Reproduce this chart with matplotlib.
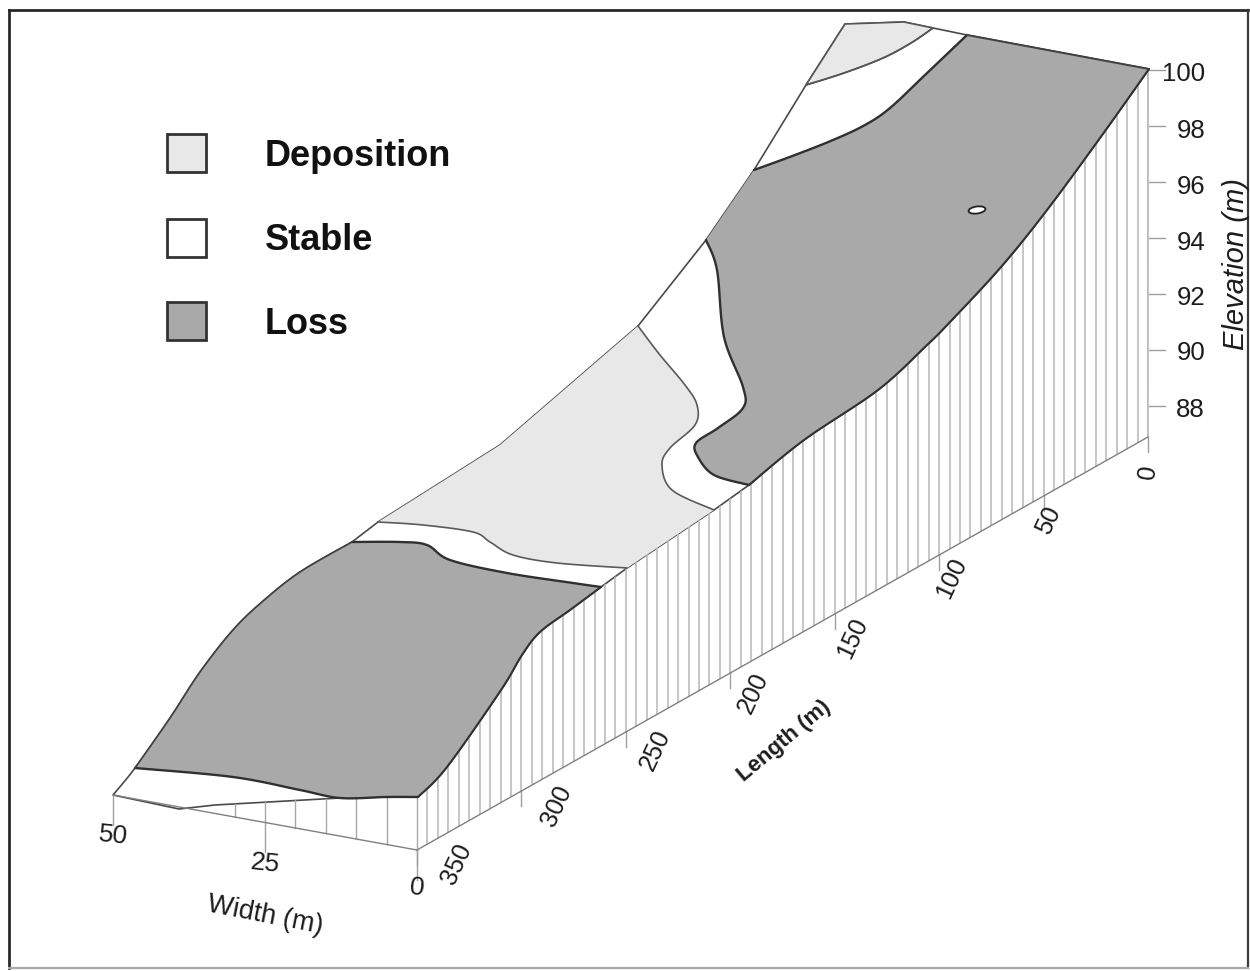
"""Erosion and deposition zones drawn on a 3-D surface of a hillslope plot."""

import matplotlib

matplotlib.use("Agg")
import matplotlib.pyplot as plt
import numpy as np
from matplotlib.patches import Ellipse, Polygon, Rectangle

plt.rcParams["font.family"] = ["Liberation Sans", "DejaVu Sans"]

W, H = 1250, 971

length_ticks = [0, 50, 100, 150, 200, 250, 300, 350]
width_ticks = [0, 25, 50]
elev_ticks = [100, 98, 96, 94, 92, 90, 88]
length_lines = list(range(0, 355, 5))
width_lines = [0, 5, 10, 15, 20, 25, 30]

legend_names = ["Deposition", "Stable", "Loss"]
legend_colors = ["#e8e8e8", "#ffffff", "#a9a9a9"]

# outlines, in picture coordinates
left_low = [(113, 795), (135, 768), (170, 718), (200, 672), (233, 630), (262, 602), (300, 572), (352, 542)]
left_up = [(352, 542), (378, 522), (500, 445), (638, 326), (706, 240), (754, 170), (806, 85), (845, 24)]
back_edge = [(845, 24), (904, 22), (933, 28), (967, 35), (1149, 69)]
right_up = [(1149, 69), (1100, 138), (1047, 210), (1001, 267), (950, 322), (926, 346), (878, 390),
            (804, 440), (749, 485)]
right_mid = [(749, 485), (714, 510), (627, 568), (601, 587)]
right_low = [(601, 587), (570, 610), (540, 632), (522, 655), (501, 690), (447, 767), (418, 797)]
front_edge = [(418, 797), (386, 797), (340, 798), (215, 805), (179, 809), (113, 795)]

loss_low_top = [(352, 542), (400, 542), (427, 545), (450, 560), (507, 573), (573, 583), (601, 587)]
loss_low_bottom = [(418, 797), (386, 797), (340, 798), (300, 790), (233, 777), (135, 768)]
loss_low_left = [(135, 768), (170, 718), (200, 672), (233, 630), (262, 602), (300, 572), (352, 542)]

dep_mid_low = [(378, 522), (423, 525), (473, 532), (490, 542), (513, 555), (557, 563), (627, 568)]
dep_mid_right = [(638, 326), (660, 355), (685, 385), (697, 405), (695, 425), (670, 448),
                 (662, 465), (672, 490), (714, 510)]
dep_mid_left = [(378, 522), (500, 445), (638, 326)]

loss_up_inner = [(749, 485), (714, 475), (698, 457), (696, 443), (718, 428), (743, 408),
                 (743, 387), (724, 337), (717, 270), (706, 240)]
loss_up_top = [(754, 170), (795, 155), (833, 140), (865, 125), (890, 108), (925, 75), (967, 35)]
loss_up_back = [(967, 35), (1149, 69)]

dep_top_low = [(806, 85), (844, 73), (883, 58), (911, 43), (933, 28)]
dep_top_edge = [(933, 28), (904, 22), (845, 24), (806, 85)]

hole_x, hole_y = 977, 210
elev_label_y = [74, 131, 187, 243, 298, 353, 410]
legend_y = [153, 238, 321]
length_label_x = [1148, 1049, 952, 853, 753, 655, 557, 457]
length_label_y = [472, 520, 578, 638, 693, 750, 806, 864]


def smooth(points, n=12):
    # Catmull-Rom through the traced points, just to keep the curves round
    p = np.array(points, dtype=float)
    if len(p) < 3:
        return p
    p = np.vstack([p[0], p, p[-1]])
    out = []
    for i in range(1, len(p) - 2):
        for t in np.linspace(0, 1, n, endpoint=False):
            out.append(0.5 * (2 * p[i] + (p[i + 1] - p[i - 1]) * t
                              + (2 * p[i - 1] - 5 * p[i] + 4 * p[i + 1] - p[i + 2]) * t ** 2
                              + (3 * p[i] - p[i - 1] - 3 * p[i + 1] + p[i + 2]) * t ** 3))
    out.append(p[-2])
    return np.array(out)


def length_x(v):
    return 1148 - 731 * np.asarray(v) / 350


def length_y(v):
    return 437 + 413 * np.asarray(v) / 350


def width_x(v):
    return 417 - 304 * np.asarray(v) / 50


def width_y(v):
    return 850 - 55 * np.asarray(v) / 50


def elev_y(v):
    return 70 + 28 * (100 - np.asarray(v))


fig = plt.figure(figsize=(W / 100, H / 100), dpi=100)
ax = fig.add_axes([0, 0, 1, 1])
ax.set_xlim(0, W)
ax.set_ylim(H, 0)
ax.axis("off")

# frame: dark on three sides, pale along the bottom
ax.plot([9, 9], [10, 968], color="#2a2a2a", lw=2)
ax.plot([9, 1248], [10.5, 10.5], color="#2a2a2a", lw=2)
ax.plot([1248, 1248], [10, 968], color="#3a3a3a", lw=1.6)
ax.plot([9, 1248], [968, 968], color="#a8a8a8", lw=1.6)

# side walls, clipped to their outlines
right_all = np.vstack([smooth(right_up), np.array(right_mid, dtype=float), smooth(right_low)])
base_len = np.column_stack([length_x([350, 0]), length_y([350, 0])])
wall = Polygon(np.vstack([right_all, base_len]), fc="white", ec="none")
ax.add_patch(wall)
for x, y in zip(length_x(length_lines), length_y(length_lines)):
    ln, = ax.plot([x, x], [y, 60], color="#bcbcbc", lw=1.2)
    ln.set_clip_path(wall)

front = np.array(front_edge, dtype=float)
for v in width_lines:
    x, y = width_x(v), width_y(v)
    top = np.interp(x, front[::-1, 0], front[::-1, 1])
    ax.plot([x, x], [top, y], color="#a8a8a8", lw=1)

# tick marks
for v in length_ticks:
    x, y = length_x(v), length_y(v)
    ax.plot([x, x], [y, y + 15], color="#a0a0a0", lw=1)
for v in width_ticks:
    x, y = width_x(v), width_y(v)
    ax.plot([x, x], [y, y + 30], color="#a0a0a0", lw=1)
for v in elev_ticks:
    ax.plot([1149, 1165], [elev_y(v)] * 2, color="#a0a0a0", lw=1)
ax.plot([1148, 1148], [437, 70], color="#bcbcbc", lw=1.2)

ax.plot(length_x([0, 350]), length_y([0, 350]), color="#808080", lw=1)
ax.plot(width_x([0, 50]), width_y([0, 50]), color="#808080", lw=1)

# surface and zones
surface = np.vstack([smooth(left_low), np.array(left_up, dtype=float), np.array(back_edge, dtype=float),
                     right_all, front])
ax.add_patch(Polygon(surface, fc="white", ec="#4a4a4a", lw=1.2))

dep_mid = np.vstack([smooth(dep_mid_low), np.array(right_mid[1:2], dtype=float),
                     smooth(dep_mid_right[::-1]), np.array(dep_mid_left[::-1], dtype=float)])
ax.add_patch(Polygon(dep_mid, fc="#e8e8e8", ec="none"))
dep_top = np.vstack([smooth(dep_top_low), np.array(dep_top_edge, dtype=float)])
ax.add_patch(Polygon(dep_top, fc="#e8e8e8", ec="#555555", lw=1.2))

loss_low = np.vstack([smooth(loss_low_top), smooth(right_low), smooth(loss_low_bottom),
                      smooth(loss_low_left)])
ax.add_patch(Polygon(loss_low, fc="#a9a9a9", ec="none"))
loss_up = np.vstack([smooth(loss_up_inner), smooth(loss_up_top), np.array(loss_up_back, dtype=float),
                     smooth(right_up)])
ax.add_patch(Polygon(loss_up, fc="#a9a9a9", ec="none"))

for line, lw, col in [(dep_mid_low, 1.2, "#5a5a5a"), (dep_mid_right, 1.2, "#5a5a5a"),
                      (loss_low_top, 1.7, "#303030"), (loss_low_bottom, 1.7, "#303030"),
                      (loss_low_left, 1.2, "#404040"), (right_low, 1.5, "#303030"),
                      (loss_up_inner, 1.7, "#303030"), (loss_up_top, 1.7, "#303030"),
                      (right_up, 1.5, "#303030"), (dep_top_low, 1.2, "#555555")]:
    s = smooth(line)
    ax.plot(s[:, 0], s[:, 1], color=col, lw=lw, solid_capstyle="round")
ax.plot(*zip(*loss_up_back), color="#404040", lw=1.4)

ax.add_patch(Ellipse((hole_x, hole_y), 17, 7, angle=-8, fc="white", ec="#222222", lw=1.3))

# legend
for name, col, y in zip(legend_names, legend_colors, legend_y):
    ax.add_patch(Rectangle((167, y - 19), 39, 38, fc=col, ec="#333333", lw=2))
    ax.text(265, y + 3, name, fontsize=26, fontweight="bold", color="#111111", va="center", ha="left")

# axis labels
for v, x, y in zip(length_ticks, length_label_x, length_label_y):
    ax.text(x, y, str(v), fontsize=18, rotation=65 if v else 82, ha="center", va="center", color="#1c1c1c")
for v in width_ticks:
    ax.text(width_x(v), width_y(v) + 41 if v else 888, str(v), fontsize=19, rotation=-6, ha="center",
            va="center", color="#1c1c1c")
for v, y in zip(elev_ticks, elev_label_y):
    ax.text(1205, y, str(v), fontsize=18.5, ha="right", va="center", color="#1c1c1c")

ax.text(265, 915, "Width (m)", fontsize=19.5, rotation=-11, ha="center", va="center", color="#1c1c1c")
ax.text(784, 741, "Length (m)", fontsize=16, rotation=40, ha="center", va="center", color="#1c1c1c",
        fontweight="bold")
ax.text(1236, 264, "Elevation (m)", fontsize=21, rotation=90, style="italic", ha="center", va="center",
        color="#1c1c1c")

fig.savefig("out.png", dpi=100)
plt.close(fig)
